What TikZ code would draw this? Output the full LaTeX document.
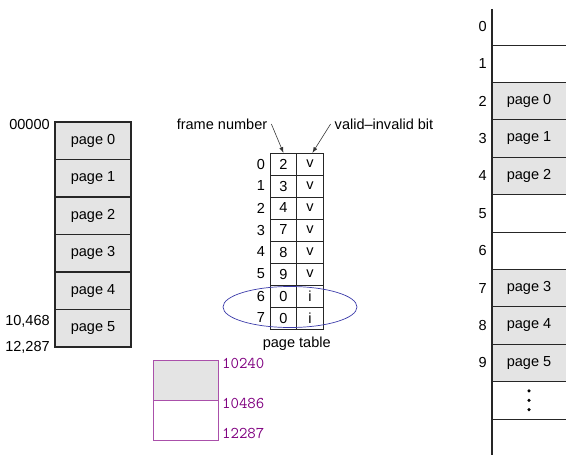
\documentclass[tikz,border=0pt]{standalone}
\usepackage{fontspec}
\setmainfont{Liberation Sans}
\usetikzlibrary{arrows.meta,positioning,shapes.geometric}
\definecolor{PageGray}{RGB}{228,228,228}
\definecolor{HolePurple}{RGB}{128,0,128}
\definecolor{HoleEdge}{RGB}{170,80,170}
\definecolor{MarkBlue}{RGB}{60,60,170}

\begin{document}
\begin{tikzpicture}[
  x=0.03cm, y=-0.03cm,
  font=\fontsize{12.4}{14}\selectfont,
  >=Latex,
  pointer/.style={-{Latex[length=5pt,width=3.5pt]}, line width=0.5pt, draw=black!80},
  page/.style={draw=black!85, line width=0.9pt, fill=PageGray, outer sep=0pt,
               minimum width=2.28cm, minimum height=1.125cm},
  cell/.style={draw=black!85, line width=0.8pt, outer sep=0pt, inner sep=0pt,
               minimum width=0.795cm, minimum height=0.66cm},
  frame/.style={outer sep=0pt, inner sep=0pt,
                minimum width=2.22cm, minimum height=1.122cm},
  used/.style={frame, fill=PageGray},
  hole/.style={draw=HoleEdge, line width=0.6pt, outer sep=0pt,
               minimum width=1.95cm, minimum height=1.2cm},
  addr/.style={text=HolePurple, font=\ttfamily\fontsize{14}{16}\selectfont}
]
\useasboundingbox (0,0) rectangle (566,455);

% Logical memory.
\node[page] (lp0) at (93,140.75) {page 0};
\foreach \p [remember=\p as \q (initially 0)] in {1,...,5}
  \node[page, below=0pt of lp\q] (lp\p) {page \p};
\node[anchor=east] (a0) at ([xshift=-1pt,yshift=-2pt]lp0.north west) {00000};
\node[anchor=east] (a1) at ([xshift=-1pt,yshift=-10pt]lp5.north west) {10,468};
\node[anchor=east] (a2) at ([xshift=-1pt]lp5.south west) {12,287};

% Page table.
\foreach \i/\f/\b in {0/2/v,1/3/v,2/4/v,3/7/v,4/8/v,5/9/v,6/0/i,7/0/i} {
  \node[cell] (pf\i) at (283.5,164+22*\i) {\f};
  \node[cell, right=0pt of pf\i] (pv\i) {\b};
  \node[left=1pt of pf\i] (pi\i) {\i};
}
\node[below=3pt of pf7.south east] (ptab) {page table};
\node (fnum) at (222,124) {frame number};
\node (vbit) at (384,124) {valid--invalid bit};
\draw[pointer] (fnum.east) -- (pf0.north);
\draw[pointer] (vbit.west) -- ([xshift=2pt]pv0.north);
\node[ellipse, draw=MarkBlue, line width=0.6pt, minimum width=4.02cm,
      minimum height=1.23cm] (inval) at (290,307) {};

% Internal fragmentation in the last page.
\node[hole, fill=PageGray] (full) at (185.5,380) {};
\node[hole, below=0pt of full] (free) {};
\node[addr, anchor=west] (h0) at ([yshift=-3pt]full.north east) {10240};
\node[addr, anchor=west] (h1) at ([yshift=-3pt]full.south east) {10486};
\node[addr, anchor=west] (h2) at ([yshift=6pt]free.south east) {12287};

% Physical memory.
\foreach \f in {0,1,5,6,10}
  \node[frame] (fr\f) at (529,26.3+37.4*\f) {};
\foreach \f/\p in {2/0,3/1,4/2,7/3,8/4,9/5}
  \node[used] (fr\f) at (529,26.3+37.4*\f) {page \p};
\foreach \f in {0,...,10}
  \draw[line width=0.8pt, draw=black!85] (fr\f.south west) -- (fr\f.south east);
\foreach \f in {0,...,9}
  \node[left=1pt of fr\f.west] (fn\f) {\f};
\draw[line width=0.9pt, draw=black!85] (492,9) -- (492,455);
\foreach \d in {-8,0,8}
  \fill ([yshift=-\d pt]fr10.center) circle (1.5pt);

\end{tikzpicture}
\end{document}
